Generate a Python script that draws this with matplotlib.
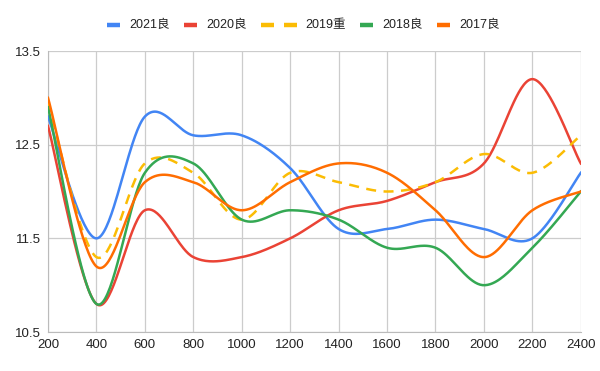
import numpy as np
import matplotlib
matplotlib.use("Agg")
import matplotlib.pyplot as plt
from matplotlib.lines import Line2D

plt.rcParams['font.family'] = ['Liberation Sans', 'Noto Sans CJK SC', 'DejaVu Sans']

x = [200, 400, 600, 800, 1000, 1200, 1400, 1600, 1800, 2000, 2200, 2400]
y2021 = [12.8, 11.5, 12.8, 12.6, 12.6, 12.25, 11.6, 11.6, 11.7, 11.6, 11.5, 12.2]
y2020 = [12.7, 10.8, 11.8, 11.3, 11.3, 11.5, 11.8, 11.9, 12.1, 12.3, 13.2, 12.3]
y2019 = [12.95, 11.3, 12.3, 12.2, 11.7, 12.2, 12.1, 12.0, 12.1, 12.4, 12.2, 12.6]
y2018 = [12.9, 10.8, 12.2, 12.3, 11.7, 11.8, 11.7, 11.4, 11.4, 11.0, 11.4, 12.0]
y2017 = [13.0, 11.2, 12.1, 12.1, 11.8, 12.1, 12.3, 12.2, 11.8, 11.3, 11.8, 12.0]

series = [
    ("2021良", y2021, "#4285F4", "-"),
    ("2020良", y2020, "#EA4335", "-"),
    ("2019重", y2019, "#FBBC04", "--"),
    ("2018良", y2018, "#34A853", "-"),
    ("2017良", y2017, "#FF6D01", "-"),
]


def smooth(xs, ys, n=40):
    xs = np.asarray(xs, float)
    ys = np.asarray(ys, float)
    px = np.concatenate([[xs[0]], xs, [xs[-1]]])
    py = np.concatenate([[ys[0]], ys, [ys[-1]]])
    ox, oy = [], []
    t = np.linspace(0, 1, n)
    for i in range(1, len(px) - 2):
        p0x, p1x, p2x, p3x = px[i - 1], px[i], px[i + 1], px[i + 2]
        p0y, p1y, p2y, p3y = py[i - 1], py[i], py[i + 1], py[i + 2]
        c1x = p1x + (p2x - p0x) / 6
        c1y = p1y + (p2y - p0y) / 6
        c2x = p2x - (p3x - p1x) / 6
        c2y = p2y - (p3y - p1y) / 6
        bx = (1 - t) ** 3 * p1x + 3 * (1 - t) ** 2 * t * c1x + 3 * (1 - t) * t ** 2 * c2x + t ** 3 * p2x
        by = (1 - t) ** 3 * p1y + 3 * (1 - t) ** 2 * t * c1y + 3 * (1 - t) * t ** 2 * c2y + t ** 3 * p2y
        ox.extend(bx)
        oy.extend(by)
    return np.array(ox), np.array(oy)


W, H = 600, 371
fig = plt.figure(figsize=(W / 100, H / 100), dpi=100)
ax = fig.add_axes([0.08, 0.105, 0.888, 0.7575])

for label, ys, color, ls in series:
    sx, sy = smooth(x, ys)
    if ls == "--":
        ax.plot(sx, sy, color=color, lw=1.8, linestyle=(0, (4, 3)), zorder=3)
    else:
        ax.plot(sx, sy, color=color, lw=1.8, zorder=3)

ax.set_xlim(200, 2400)
ax.set_ylim(10.5, 13.5)
ax.set_xticks(np.arange(200, 2401, 200))
ax.set_yticks([10.5, 11.5, 12.5, 13.5])
ax.set_yticklabels(["10.5", "11.5", "12.5", "13.5"])
ax.grid(True, color="#cccccc", lw=0.9)
ax.set_axisbelow(True)
for s in ax.spines.values():
    s.set_visible(False)
ax.spines['left'].set_visible(True)
ax.spines['bottom'].set_visible(True)
ax.spines['left'].set_color("#bbbbbb")
ax.spines['bottom'].set_color("#bbbbbb")
ax.tick_params(length=0, labelsize=9.5, colors="#222222", pad=5)

# manual legend (pixel layout)
ly = 1 - 25 / H
starts = [107, 184, 261, 360, 437]
for (label, ys, color, ls), sx0 in zip(series, starts):
    if ls == "--":
        segs = [(sx0, sx0 + 13), (sx0 + 23, sx0 + 36)]
        tx = sx0 + 44
    else:
        segs = [(sx0, sx0 + 13)]
        tx = sx0 + 22
    for a, b in segs:
        fig.add_artist(Line2D([a / W, b / W], [ly, ly], transform=fig.transFigure,
                              color=color, lw=3.2, solid_capstyle='butt'))
    fig.text(tx / W, ly, label, fontsize=9, color="#222222", ha='left', va='center')

fig.savefig("out.png", dpi=100)
